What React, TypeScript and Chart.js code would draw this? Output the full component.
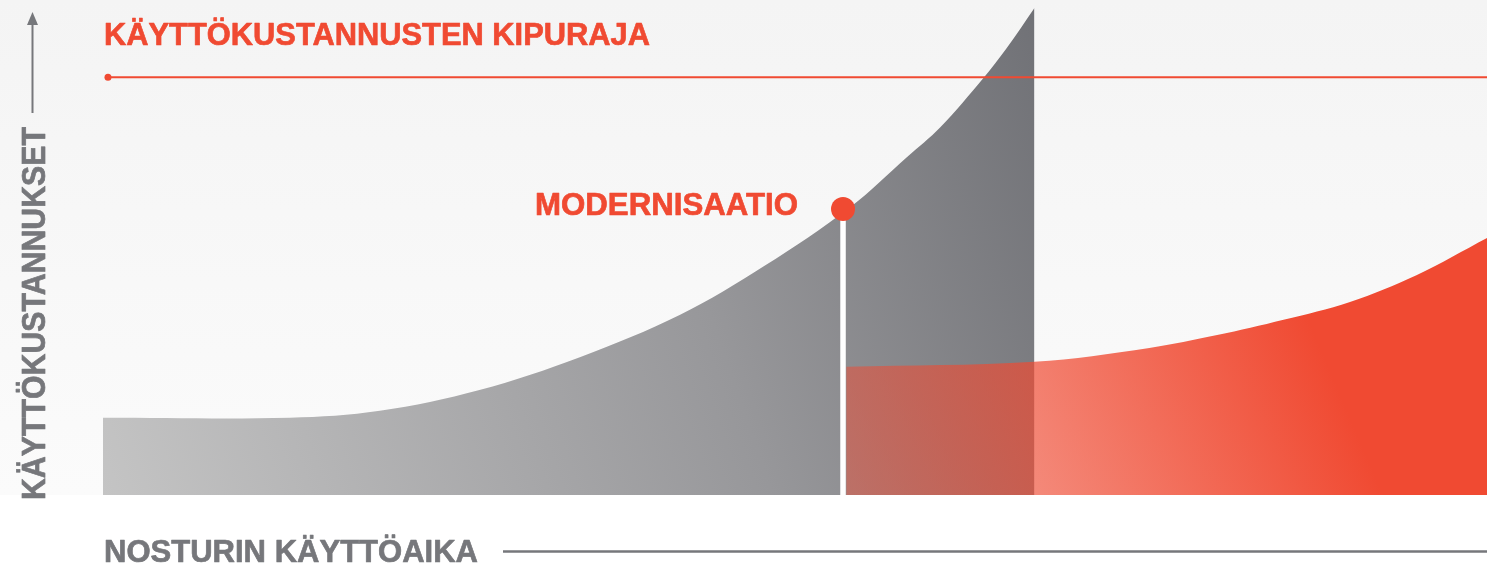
import React, { useEffect, useRef } from "react";
import { Chart, registerables } from "chart.js";

Chart.register(...registerables);

// ---- Data (x: share of crane service life 0..100, y: operating cost index 0..100)
const GRAY_X = [0, 13.5, 20.0, 27.2, 34.5, 41.7, 47.8, 54.0, 58.1, 60.5, 63.6, 65.3, 67.3];
const GRAY_Y = [15.6, 15.6, 17.0, 21.2, 27.9, 36.4, 46.3, 58.2, 68.3, 74.3, 84.2, 90.3, 98.4];
const RED_X = [53.7, 67.3, 75.6, 80.5, 85.3, 90.1, 94.9, 100];
const RED_Y = [25.9, 26.9, 29.7, 32.3, 35.4, 39.0, 44.4, 51.9];
const THRESHOLD_X = [0.36, 100];
const THRESHOLD_Y = [84.4, 84.4];
const MOD_X = [53.47];
const MOD_Y = [57.8];
const MOD_LINE_Y = [0, 57.8];

const TITLE = "KÄYTTÖKUSTANNUSTEN KIPURAJA";
const MOD_LABEL = "MODERNISAATIO";
const X_LABEL = "NOSTURIN KÄYTTÖAIKA";
const Y_LABEL = "KÄYTTÖKUSTANNUKSET";

const RED = "#f04a32";
const GRAY_TEXT = "#76777b";
const FONT = '"Liberation Sans Narrow", "Liberation Sans", Arial, sans-serif';

const W = 1487;
const H = 564;

function fitText(
  ctx: CanvasRenderingContext2D,
  text: string,
  width: number,
  size: number,
  color: string
) {
  ctx.font = `bold ${size}px ${FONT}`;
  const w = ctx.measureText(text).width;
  const sx = width / w;
  ctx.scale(sx, 1);
  ctx.fillStyle = color;
  ctx.strokeStyle = color;
  ctx.lineWidth = 0.7;
  ctx.lineJoin = "round";
  ctx.textBaseline = "alphabetic";
  ctx.textAlign = "left";
  ctx.fillText(text, 0, 0);
  ctx.strokeText(text, 0, 0);
}

const decorPlugin = {
  id: "decor",
  beforeDraw(chart: any) {
    const ctx = chart.ctx as CanvasRenderingContext2D;
    const bottom = chart.chartArea.bottom;
    ctx.save();
    const g = ctx.createLinearGradient(0, 0, 0, bottom);
    g.addColorStop(0, "#f4f4f4");
    g.addColorStop(1, "#fbfbfb");
    ctx.fillStyle = g;
    ctx.fillRect(0, 0, W, bottom);
    ctx.fillStyle = "#ffffff";
    ctx.fillRect(0, bottom, W, H - bottom);
    ctx.restore();
  },
  afterDraw(chart: any) {
    const ctx = chart.ctx as CanvasRenderingContext2D;
    const xs = chart.scales.x;
    const ys = chart.scales.y;
    // title
    ctx.save();
    ctx.translate(104, 45);
    fitText(ctx, TITLE, 546, 32, RED);
    ctx.restore();
    // modernisation label, placed left of the marker
    const mx = xs.getPixelForValue(MOD_X[0]);
    const my = ys.getPixelForValue(MOD_Y[0]);
    ctx.save();
    ctx.translate(mx - 308, my + 6);
    fitText(ctx, MOD_LABEL, 263, 32, RED);
    ctx.restore();
    // x axis label + line
    ctx.save();
    ctx.translate(104, 562);
    fitText(ctx, X_LABEL, 374, 32, GRAY_TEXT);
    ctx.restore();
    ctx.save();
    ctx.strokeStyle = GRAY_TEXT;
    ctx.lineWidth = 2.5;
    ctx.beginPath();
    ctx.moveTo(503, 551.5);
    ctx.lineTo(W, 551.5);
    ctx.stroke();
    ctx.restore();
    // y axis label + arrow
    ctx.save();
    ctx.translate(45, 500);
    ctx.rotate(-Math.PI / 2);
    fitText(ctx, Y_LABEL, 373, 33, GRAY_TEXT);
    ctx.restore();
    ctx.save();
    ctx.strokeStyle = GRAY_TEXT;
    ctx.fillStyle = GRAY_TEXT;
    ctx.lineWidth = 2;
    ctx.beginPath();
    ctx.moveTo(32.5, 113);
    ctx.lineTo(32.5, 22);
    ctx.stroke();
    ctx.beginPath();
    ctx.moveTo(27, 25);
    ctx.lineTo(38, 25);
    ctx.lineTo(32.5, 12);
    ctx.closePath();
    ctx.fill();
    ctx.restore();
  },
};

function grayFill(c: any) {
  const chart = c.chart;
  const area = chart.chartArea;
  if (!area) return "#999";
  const g = chart.ctx.createLinearGradient(area.left, area.bottom, 1100, 150);
  g.addColorStop(0, "#c4c4c4");
  g.addColorStop(0.6, "#97979a");
  g.addColorStop(1, "#6f7075");
  return g;
}

function redFill(c: any) {
  const chart = c.chart;
  const area = chart.chartArea;
  if (!area) return RED;
  const x0 = chart.scales.x.getPixelForValue(RED_X[0]);
  const g = chart.ctx.createLinearGradient(x0, area.bottom, x0 + 454, area.bottom - 194);
  g.addColorStop(0, "rgba(240,74,50,0.45)");
  g.addColorStop(1, "rgba(240,74,50,1)");
  return g;
}

export default function App() {
  const ref = useRef<HTMLCanvasElement | null>(null);

  useEffect(() => {
    if (!ref.current) return;
    const chart = new Chart(ref.current, {
      type: "line",
      data: {
        datasets: [
          {
            label: "Modernisaatio",
            data: MOD_X.map((x, i) => ({ x, y: MOD_Y[i] })),
            showLine: false,
            pointRadius: 12,
            pointBackgroundColor: RED,
            pointBorderWidth: 0,
            order: 1,
          } as any,
          {
            label: "Kipuraja",
            data: THRESHOLD_X.map((x, i) => ({ x, y: THRESHOLD_Y[i] })),
            borderColor: RED,
            borderWidth: 2,
            pointRadius: [3.5, 0],
            pointBackgroundColor: RED,
            pointBorderWidth: 0,
            fill: false,
            order: 2,
          },
          {
            label: "Modernisaatiohetki",
            data: MOD_LINE_Y.map((y) => ({ x: MOD_X[0], y })),
            borderColor: "#ffffff",
            borderWidth: 5.5,
            pointRadius: 0,
            fill: false,
            order: 3,
          },
          {
            label: "Modernisoitu nosturi",
            data: RED_X.map((x, i) => ({ x, y: RED_Y[i] })),
            borderWidth: 0,
            pointRadius: 0,
            fill: "origin",
            backgroundColor: redFill,
            tension: 0.35,
            order: 4,
          },
          {
            label: "Vanha nosturi",
            data: GRAY_X.map((x, i) => ({ x, y: GRAY_Y[i] })),
            borderWidth: 0,
            pointRadius: 0,
            fill: "origin",
            backgroundColor: grayFill,
            tension: 0.35,
            order: 5,
          },
        ],
      },
      options: {
        animation: false,
        responsive: false,
        devicePixelRatio: 1,
        layout: { autoPadding: false, padding: { left: 103, right: 0, top: 0, bottom: 69 } },
        scales: {
          x: { type: "linear", min: 0, max: 100, display: false },
          y: { type: "linear", min: 0, max: 100, display: false },
        },
        plugins: {
          legend: { display: false },
          tooltip: { enabled: false },
        },
        events: [],
      },
      plugins: [decorPlugin],
    });
    return () => chart.destroy();
  }, []);

  return (
    <div style={{ position: "absolute", left: 0, top: 0, width: W, height: H }}>
      <canvas ref={ref} width={W} height={H} style={{ display: "block", width: W, height: H }} />
    </div>
  );
}
